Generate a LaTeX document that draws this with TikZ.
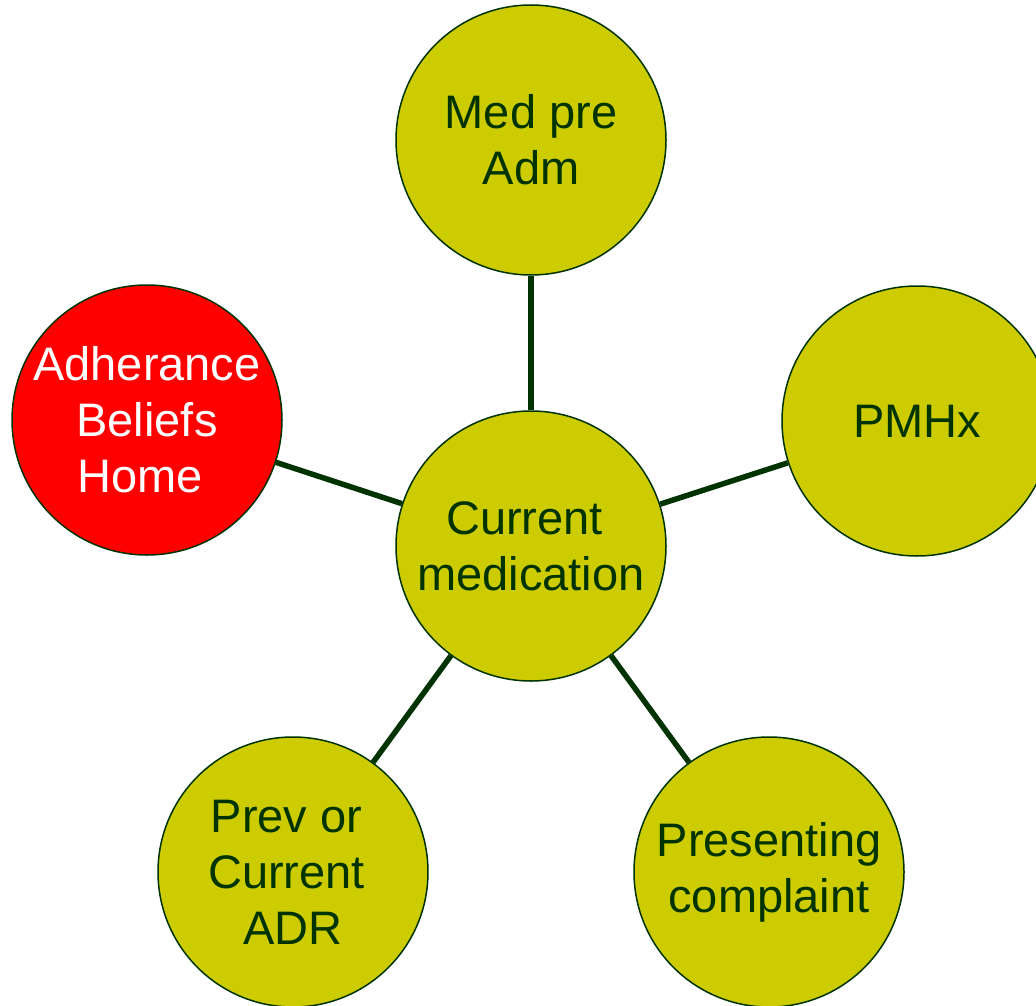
\documentclass[tikz,border=0pt]{standalone}
\usepackage{fontspec}
\setmainfont{Liberation Sans}
\definecolor{olive}{HTML}{CCCC00}
\definecolor{darkgreen}{HTML}{003300}
\definecolor{alertred}{HTML}{FF0000}
% trailing word space kept at a line end
\newcommand{\tsp}{\kern0.278em}
\begin{document}
\begin{tikzpicture}[x=1pt,y=-1pt,
  topic/.style={circle, draw=darkgreen, line width=1.5pt, fill=olive,
    minimum size=270pt, inner sep=0pt, align=center, text=darkgreen,
    font=\fontsize{47}{56}\selectfont},
  alert/.style={topic, fill=alertred, text=white},
  link/.style={draw=darkgreen, line width=5.5pt}]
  \useasboundingbox (0,0) rectangle (1036,1006);
  % hub and satellites
  \node[topic] (cur) at (531,546) {Current\tsp\\medication};
  \node[topic] (med) at (531,140) {Med pre\\Adm};
  \node[topic] (pmh) at (917,421) {PMHx};
  \node[alert] (adh) at (147,420) {Adherance\\Beliefs\\Home\tsp};
  \node[topic] (adr) at (293,872) {Prev or\tsp\\Current\tsp\\ADR};
  \node[topic] (pre) at (769,872) {Presenting\\complaint};
  % spokes
  \draw[link] (cur) -- (med);
  \draw[link] (cur) -- (pmh);
  \draw[link] (cur) -- (adh);
  \draw[link] (cur) -- (adr);
  \draw[link] (cur) -- (pre);
\end{tikzpicture}
\end{document}
